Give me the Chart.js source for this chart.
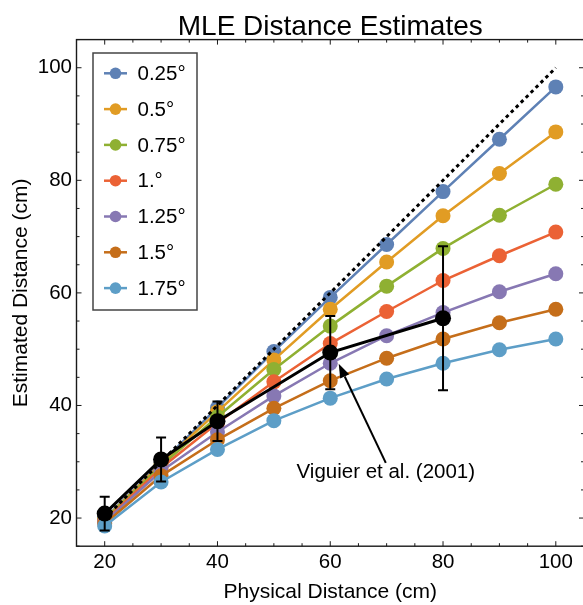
<!DOCTYPE html>
<html><head><meta charset="utf-8">
<script src="https://cdn.jsdelivr.net/npm/chart.js@4"></script>
<style>html,body{margin:0;padding:0;overflow:hidden;background:#fff}#wrap{width:592px;height:605px}</style>
</head><body><div id="wrap"><canvas id="c" width="592" height="605"></canvas></div>
<script>
const physicalDistance = [20, 30, 40, 50, 60, 70, 80, 90, 100];
const seriesLabels = ['0.25°', '0.5°', '0.75°', '1.°', '1.25°', '1.5°', '1.75°'];
const est025 = [19.9, 29.8, 39.6, 49.6, 59.2, 68.6, 78.0, 87.3, 96.6];
const est050 = [19.8, 29.6, 38.9, 48.1, 57.1, 65.5, 73.7, 81.2, 88.6];
const est075 = [19.7, 29.3, 38.0, 46.4, 54.1, 61.2, 67.9, 73.8, 79.3];
const est100 = [19.5, 28.9, 36.9, 44.2, 51.0, 56.7, 62.2, 66.6, 70.8];
const est125 = [19.3, 28.3, 35.3, 41.7, 47.5, 52.4, 56.5, 60.2, 63.4];
const est150 = [19.0, 27.5, 33.9, 39.5, 44.4, 48.4, 51.8, 54.7, 57.1];
const est175 = [18.6, 26.4, 32.2, 37.3, 41.3, 44.7, 47.5, 49.9, 51.8];
const viguierX = [20, 30, 40, 60, 80];
const viguierY = [20.8, 30.4, 37.2, 49.4, 55.5];
const viguierErr = [3.0, 3.9, 3.5, 6.5, 12.8];
const identityX = [20, 100];
const xTicks = [20, 40, 60, 80, 100];
const yTicks = [20, 40, 60, 80, 100];

const colors = ['#5E81B5', '#E19C24', '#8FB032', '#EB6235', '#8778B3', '#C56E1A', '#5D9EC7'];
const allSeries = [est025, est050, est075, est100, est125, est150, est175];
const note = { text: 'Viguier et al. (2001)', x: 69.85, y: 28.1, from: [69.85, 29.8], to: [61.5, 47.4] };
const FONT = "'Liberation Sans', Arial, Helvetica, sans-serif";

Chart.defaults.font.family = FONT;
Chart.defaults.color = '#000';

const datasets = allSeries.map((vals, i) => ({
  label: seriesLabels[i],
  data: vals.map((v, j) => ({ x: physicalDistance[j], y: v })),
  borderColor: colors[i],
  backgroundColor: colors[i],
  pointBackgroundColor: colors[i],
  borderWidth: 2.5,
  pointRadius: 7.5,
  pointBorderWidth: 0,
  order: 7 - i
}));
datasets.push({
  label: 'identity',
  data: identityX.map(v => ({ x: v, y: v })),
  borderColor: '#000',
  borderWidth: 3,
  borderDash: [3.5, 3.5],
  pointRadius: 0,
  order: -1
});
datasets.push({
  label: 'Viguier',
  data: viguierX.map((v, j) => ({ x: v, y: viguierY[j] })),
  borderColor: '#000',
  backgroundColor: '#000',
  pointBackgroundColor: '#000',
  borderWidth: 3,
  pointRadius: 8,
  pointBorderWidth: 0,
  order: -2
});

const decor = {
  id: 'decor',
  afterDatasetsDraw(chart) {
    const { ctx, scales: { x, y } } = chart;
    ctx.save();
    ctx.strokeStyle = '#000';
    ctx.lineWidth = 2;
    viguierX.forEach((v, i) => {
      const px = x.getPixelForValue(v);
      const t = y.getPixelForValue(viguierY[i] + viguierErr[i]);
      const b = y.getPixelForValue(viguierY[i] - viguierErr[i]);
      ctx.beginPath();
      ctx.moveTo(px, t); ctx.lineTo(px, b);
      ctx.moveTo(px - 5, t); ctx.lineTo(px + 5, t);
      ctx.moveTo(px - 5, b); ctx.lineTo(px + 5, b);
      ctx.stroke();
    });
    const x0 = x.getPixelForValue(note.from[0]), y0 = y.getPixelForValue(note.from[1]);
    const x1 = x.getPixelForValue(note.to[0]), y1 = y.getPixelForValue(note.to[1]);
    const ang = Math.atan2(y1 - y0, x1 - x0);
    const hl = 14, hw = 5;
    const bx = x1 - hl * Math.cos(ang), by = y1 - hl * Math.sin(ang);
    ctx.beginPath(); ctx.moveTo(x0, y0); ctx.lineTo(bx, by); ctx.stroke();
    ctx.fillStyle = '#000';
    ctx.beginPath();
    ctx.moveTo(x1, y1);
    ctx.lineTo(bx + hw * Math.sin(ang), by - hw * Math.cos(ang));
    ctx.lineTo(bx - hw * Math.sin(ang), by + hw * Math.cos(ang));
    ctx.closePath(); ctx.fill();
    ctx.font = '20.5px ' + FONT;
    ctx.textAlign = 'center';
    ctx.textBaseline = 'middle';
    ctx.fillText(note.text, x.getPixelForValue(note.x), y.getPixelForValue(note.y));
    ctx.restore();
  },
  afterDraw(chart) {
    const { ctx, chartArea: a, scales: { x, y } } = chart;
    ctx.save();
    ctx.strokeStyle = '#1a1a1a';
    ctx.lineWidth = 1.4;
    ctx.strokeRect(a.left, a.top, a.right - a.left, a.bottom - a.top);
    ctx.lineWidth = 1;
    ctx.beginPath();
    for (let v = 15; v <= 105; v += 5) {
      const lenX = xTicks.includes(v) ? 5 : 3;
      const px = x.getPixelForValue(v);
      ctx.moveTo(px, a.bottom); ctx.lineTo(px, a.bottom - lenX);
      ctx.moveTo(px, a.top); ctx.lineTo(px, a.top + lenX);
      const lenY = yTicks.includes(v) ? 5 : 3;
      const py = y.getPixelForValue(v);
      ctx.moveTo(a.left, py); ctx.lineTo(a.left + lenY, py);
      ctx.moveTo(a.right, py); ctx.lineTo(a.right - lenY, py);
    }
    ctx.stroke();
    const lx = a.left + 16.5, ly = a.top + 13.4, lw = 104, lh = 257;
    ctx.fillStyle = '#fff';
    ctx.fillRect(lx, ly, lw, lh);
    ctx.strokeStyle = '#444';
    ctx.lineWidth = 1.5;
    ctx.strokeRect(lx, ly, lw, lh);
    ctx.font = '20.5px ' + FONT;
    ctx.textAlign = 'left';
    ctx.textBaseline = 'middle';
    seriesLabels.forEach((lab, i) => {
      const cy = ly + 20.3 + i * 35.8;
      ctx.strokeStyle = colors[i];
      ctx.lineWidth = 2.5;
      ctx.beginPath(); ctx.moveTo(lx + 11, cy); ctx.lineTo(lx + 34, cy); ctx.stroke();
      ctx.fillStyle = colors[i];
      ctx.beginPath(); ctx.arc(lx + 22.5, cy, 5.8, 0, Math.PI * 2); ctx.fill();
      ctx.fillStyle = '#000';
      ctx.fillText(lab, lx + 44.5, cy + 1);
    });
    ctx.restore();
  }
};

new Chart(document.getElementById('c'), {
  type: 'line',
  data: { datasets },
  options: {
    responsive: false,
    animation: false,
    devicePixelRatio: 1,
    layout: { padding: { left: 0, right: 5.8, top: 0, bottom: 0 } },
    plugins: {
      legend: { display: false },
      tooltip: { enabled: false },
      title: {
        display: true,
        text: 'MLE Distance Estimates',
        fullSize: false,
        color: '#000',
        font: { size: 28, weight: 'normal', family: FONT },
        padding: { top: 10, bottom: -4 }
      }
    },
    scales: {
      x: {
        type: 'linear', min: 15, max: 105,
        afterBuildTicks: s => { s.ticks = xTicks.map(v => ({ value: v })); },
        afterFit: s => { s.height = 58.8; s.paddingLeft = 0; s.paddingRight = 0; },
        grid: { display: false, drawTicks: false },
        border: { display: false },
        ticks: { font: { size: 20.5 }, color: '#000', padding: 4, maxRotation: 0, autoSkip: false },
        title: { display: true, text: 'Physical Distance (cm)', color: '#000', font: { size: 21 }, padding: { top: 0, bottom: 0 } }
      },
      y: {
        type: 'linear', min: 15, max: 105,
        afterBuildTicks: s => { s.ticks = yTicks.map(v => ({ value: v })); },
        afterFit: s => { s.width = 76.5; s.paddingTop = 0; s.paddingBottom = 0; },
        grid: { display: false, drawTicks: false },
        border: { display: false },
        ticks: { font: { size: 20.5 }, color: '#000', padding: 4.5, autoSkip: false },
        title: { display: true, text: 'Estimated Distance (cm)', color: '#000', font: { size: 21 }, padding: { top: 9, bottom: 0 } }
      }
    }
  },
  plugins: [decor]
});
</script>
</body></html>
